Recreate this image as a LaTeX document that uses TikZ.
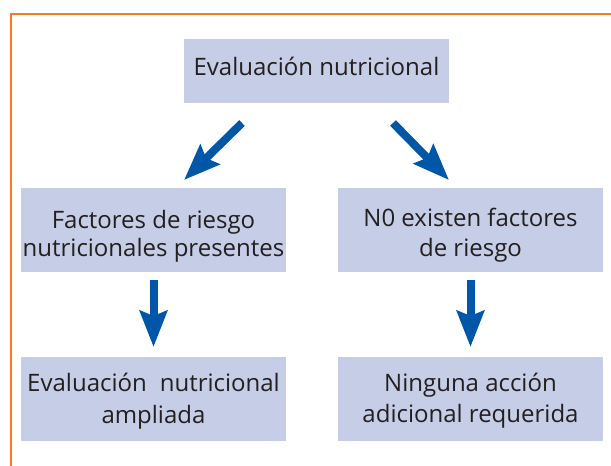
\documentclass[tikz,border=0pt]{standalone}
\usepackage{fontspec}
\setmainfont{Open Sans}
\usetikzlibrary{arrows.meta}
\definecolor{boxfill}{HTML}{C6CDE6}
\definecolor{arrowblue}{HTML}{0057A8}
\definecolor{frameorange}{HTML}{F47B20}
\definecolor{txt}{HTML}{231F20}
% #1: depth of first baseline below box centre, #2: line spacing, #3: lines
\newcommand{\boxlines}[3]{\raisebox{-#1}[0pt][0pt]{\fontsize{24}{#2}\selectfont
  \renewcommand{\arraystretch}{1}\begin{tabular}[t]{@{}c@{}}#3\end{tabular}}}
\tikzset{
  flowbox/.style={fill=boxfill, draw=none, inner sep=0pt, minimum width=265pt,
    minimum height=84pt, align=center, text=txt,
    font=\fontsize{24}{28}\selectfont},
  bigarrow/.style={draw=arrowblue, line width=8pt,
    -{Stealth[length=36pt, width=27pt, inset=5pt, fill=arrowblue]}},
  frameline/.style={draw=frameorange, line width=2pt}
}
\begin{document}
\begin{tikzpicture}[x=1pt,y=-1pt]
\useasboundingbox (0,0) rectangle (611,466);
\coordinate (fA) at (10.5,466);
\coordinate (fB) at (10.5,13.5);
\coordinate (fC) at (611,13.5);
\draw[frameline] (fA) -- (fB) -- (fC);

\node[flowbox, minimum height=64pt] (top) at (316.5,71)
  {\boxlines{4.7pt}{28pt}{Evaluación nutricional}};
\node[flowbox] (ml) at (153.5,230)
  {\boxlines{-1.7pt}{27.7pt}{Factores de riesgo\\nutricionales presentes}};
\node[flowbox] (mr) at (470.5,230)
  {\boxlines{-4pt}{30.7pt}{N0 existen factores\\de riesgo}};
\node[flowbox] (bl) at (153.5,399)
  {\boxlines{-7.3pt}{31.3pt}{Evaluación\hspace{13pt}nutricional\\ampliada}};
\node[flowbox] (br) at (470.5,399)
  {\boxlines{-7.3pt}{31pt}{Ninguna acción\\adicional requerida}};

\coordinate (d1s) at (242,123);
\coordinate (d1e) at (184,180);
\coordinate (d2s) at (393,123);
\coordinate (d2e) at (449,180);
\draw[bigarrow] (d1s) -- (d1e);
\draw[bigarrow] (d2s) -- (d2e);
\draw[bigarrow] (ml.south |- 0,280) -- (ml.south |- 0,347);
\draw[bigarrow] (mr.south |- 0,280) -- (mr.south |- 0,347);
\end{tikzpicture}
\end{document}
